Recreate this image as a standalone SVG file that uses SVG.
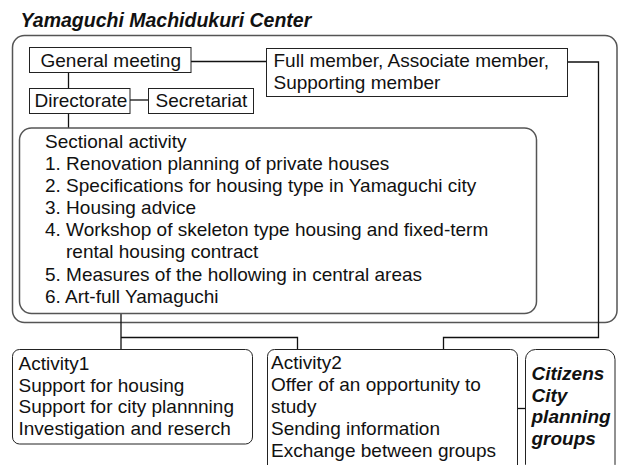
<svg xmlns="http://www.w3.org/2000/svg" width="619" height="465" viewBox="0 0 619 465">
<style>
text{font-family:"Liberation Sans",Arial,sans-serif;font-size:19px;fill:#111}
.bi{font-weight:bold;font-style:italic}
.title{font-size:19.5px}
.box{fill:#fff;stroke:#222;stroke-width:1}
.frame{fill:none;stroke:#555;stroke-width:1.5}
.con{fill:none;stroke:#111;stroke-width:1.3}
</style>
<rect width="619" height="465" fill="#fff"/>
<text id="title" class="bi title" x="20.5" y="26.5">Yamaguchi Machidukuri Center</text>
<g id="center-frame"><rect class="frame" x="12.5" y="35.5" width="604.5" height="287" rx="12"/></g>
<g id="connectors">
<line class="con" x1="191" y1="61.5" x2="266.5" y2="61.5"/>
<line class="con" x1="68.5" y1="72.5" x2="68.5" y2="88.5"/>
<line class="con" x1="68.5" y1="113.5" x2="68.5" y2="128"/>
<line class="con" x1="130" y1="100" x2="148.5" y2="100"/>
<polyline class="con" points="121,313 121,349.5"/>
<polyline class="con" points="121,337.5 297.5,337.5 297.5,349.5"/>
<polyline class="con" points="567.5,62 598.5,62 598.5,337.5 443.5,337.5 443.5,349.5"/>
<line class="con" x1="517.5" y1="408.5" x2="525.5" y2="408.5"/>
</g>
<g id="general-meeting"><rect class="box" x="29.5" y="47.5" width="161.5" height="25"/><text x="40.5" y="66.5">General meeting</text></g>
<g id="members"><rect class="box" x="266.5" y="48.5" width="301" height="48"/><text x="273.5" y="66.5">Full member, Associate member,</text><text x="273.5" y="88.5">Supporting member</text></g>
<g id="directorate"><rect class="box" x="29.5" y="88.5" width="100.5" height="25"/><text x="34.5" y="107">Directorate</text></g>
<g id="secretariat"><rect class="box" x="148.5" y="88.5" width="105" height="25"/><text x="155.5" y="107">Secretariat</text></g>
<g id="sectional-activity"><rect class="frame" x="19.5" y="128" width="517" height="185.5" rx="12"/>
<text x="45" y="148">Sectional activity</text>
<text x="45" y="170">1. Renovation planning of private houses</text>
<text x="45" y="192">2. Specifications for housing type in Yamaguchi city</text>
<text x="45" y="214">3. Housing advice</text>
<text x="45" y="236">4. Workshop of skeleton type housing and fixed-term</text>
<text x="66" y="258">rental housing contract</text>
<text x="45" y="280.5">5. Measures of the hollowing in central areas</text>
<text x="45" y="302.5">6. Art-full Yamaguchi</text>
</g>
<g id="activity1"><rect class="box" x="12.5" y="349.5" width="240" height="94.5" rx="7"/>
<text x="18.5" y="369.5">Activity1</text>
<text x="18.5" y="391.5">Support for housing</text>
<text x="18.5" y="413">Support for city plannning</text>
<text x="18.5" y="435">Investigation and reserch</text>
</g>
<g id="activity2"><rect class="box" x="267.5" y="349.5" width="250" height="125" rx="7"/>
<text x="271" y="369">Activity2</text>
<text x="271" y="391">Offer of an opportunity to</text>
<text x="271" y="412.5">study</text>
<text x="271" y="434.5">Sending information</text>
<text x="271" y="456.5">Exchange between groups</text>
</g>
<g id="citizens"><rect class="box" x="525.5" y="349.5" width="89.5" height="125" rx="10"/>
<text class="bi" x="531.5" y="380">Citizens</text>
<text class="bi" x="531.5" y="401.7">City</text>
<text class="bi" x="531.5" y="423.3">planning</text>
<text class="bi" x="531.5" y="445">groups</text>
</g>
</svg>
